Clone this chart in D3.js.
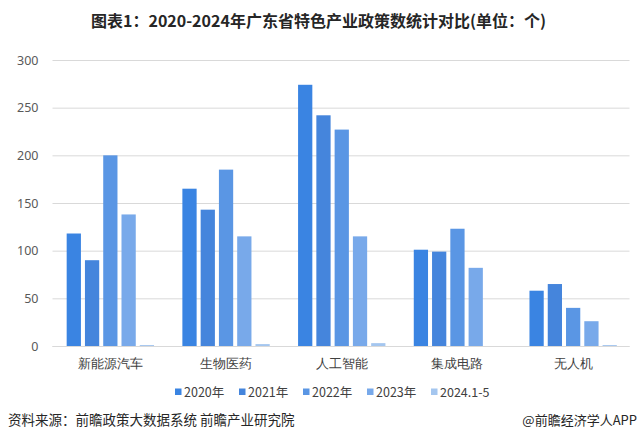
<!DOCTYPE html>
<html><head><meta charset="utf-8">
<script src="https://cdn.jsdelivr.net/npm/d3@7"></script>
<style>
html,body{margin:0;padding:0;background:#fff;}
svg{display:block;font-family:"Noto Sans CJK SC","Noto Sans",sans-serif;}
</style></head>
<body><svg id="c" width="639" height="442"></svg>
<script>
const categories = ["新能源汽车","生物医药","人工智能","集成电路","无人机"];
const seriesNames = ["2020年","2021年","2022年","2023年","2024.1-5"];
const v2020 = [118,165,274,101,58];
const v2021 = [90,143,242,99,65];
const v2022 = [200,185,227,123,40];
const v2023 = [138,115,115,82,26];
const v2024 = [1,2,3,0,1];
const yTicks = [0,50,100,150,200,250,300];
const colors = ["#3a84e2","#4585dc","#5a96e4","#78a9ea","#a4c6ef"];
const seriesValues = [v2020,v2021,v2022,v2023,v2024];

const svg = d3.select("#c");
const plot = {left:52.5,right:631,top:60,bottom:346};

const x0 = d3.scaleBand().domain(categories).range([plot.left,plot.right]).padding(0);
const bw = x0.bandwidth();
const x1 = d3.scaleBand().domain(seriesNames).range([bw*0.1225,bw*0.8775]).paddingInner(0.22).paddingOuter(0);
const y = d3.scaleLinear().domain([0,300]).range([plot.bottom,plot.top]);

// title
svg.append("text").attr("x",318.5).attr("y",26.5).attr("text-anchor","middle")
  .attr("font-size",16).attr("font-weight","bold").attr("fill","#262626")
  .text("图表1：2020-2024年广东省特色产业政策数统计对比(单位：个)");

// gridlines
const yAxis = d3.axisLeft(y).tickValues(yTicks).tickSize(-(plot.right-plot.left-1.5)).tickPadding(14);
const gy = svg.append("g").attr("transform",`translate(${plot.left},0)`).call(yAxis);
gy.select(".domain").remove();
gy.selectAll(".tick line").attr("stroke","#d9d9d9").attr("stroke-width",1);
gy.selectAll(".tick text").attr("fill","#595959").attr("font-size",12.5)
  .attr("font-family","'Noto Sans','DejaVu Sans',sans-serif");

// bars
const data = [];
categories.forEach((c,i)=>seriesNames.forEach((s,j)=>data.push({c,s,j,v:seriesValues[j][i]})));
svg.append("g").selectAll("rect").data(data).join("rect")
  .attr("x",d=>x0(d.c)+x1(d.s))
  .attr("width",x1.bandwidth())
  .attr("y",d=>y(d.v))
  .attr("height",d=>y(0)-y(d.v))
  .attr("fill",d=>colors[d.j]);

// x axis
const xAxis = d3.axisBottom(x0).tickSize(0).tickPadding(13);
const gx = svg.append("g").attr("transform",`translate(0,${plot.bottom})`).call(xAxis);
gx.select(".domain").attr("stroke","#d9d9d9").attr("d",`M${plot.left},0.5H${plot.right-1.5}`);
gx.selectAll(".tick text").attr("fill","#404040").attr("font-size",13);

// legend
const leg = svg.append("g").selectAll("g").data(seriesNames).join("g")
  .attr("transform",(d,i)=>`translate(${175+i*64},392)`);
leg.append("rect").attr("x",0).attr("y",-3.5).attr("width",6.5).attr("height",6.5).attr("fill",(d,i)=>colors[i]);
leg.append("text").attr("x",9).attr("y",0).attr("dy","0.36em").attr("font-size",12.5).attr("fill","#404040").text(d=>d);

// footer
svg.append("text").attr("x",8).attr("y",425).attr("font-size",13.5).attr("fill","#262626")
  .text("资料来源：前瞻政策大数据系统 前瞻产业研究院");
svg.append("text").attr("x",637).attr("y",425).attr("text-anchor","end").attr("font-size",13).attr("fill","#262626")
  .text("@前瞻经济学人APP");
</script></body></html>
